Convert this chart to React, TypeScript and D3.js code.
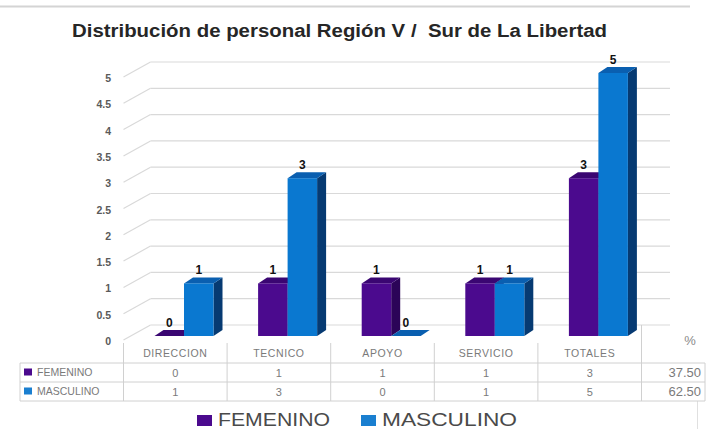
import React from "react";
import * as d3 from "d3";

const categories = ["DIRECCION", "TECNICO", "APOYO", "SERVICIO", "TOTALES"];
const femenino = [0, 1, 1, 1, 3];
const masculino = [1, 3, 0, 1, 5];
const seriesNames = ["FEMENINO", "MASCULINO"];
const percentages = ["37.50", "62.50"];
const title = "Distribución de personal Región V /  Sur de La Libertad";

const W = 707;
const H = 429;
const FONT = "'Liberation Sans', Arial, sans-serif";

const colors = {
  fem: { front: "#4b0a8e", top: "#3a0672", side: "#2b0458", legend: "#4b0a8e" },
  masc: { front: "#0a78d0", top: "#0a5fb0", side: "#063a72", legend: "#1a7fd0" },
};

export default function App() {
  const y = d3.scaleLinear().domain([0, 5]).range([336, 73]);
  const x = d3.scaleBand().domain(categories).range([123.5, 641.5]).padding(0);
  const ticks = y.ticks(10);
  const bw = 29.5;
  const dx = 9;
  const dy = -6;
  const off = 31;
  const backDx = 27;
  const backDy = -11;

  const bar3d = (xs: number, v: number, c: any, key: string) => {
    const yt = y(v);
    const yb = y(0);
    const top = `${xs},${yt} ${xs + dx},${yt + dy} ${xs + bw + dx},${yt + dy} ${xs + bw},${yt}`;
    const side = `${xs + bw},${yt} ${xs + bw + dx},${yt + dy} ${xs + bw + dx},${yb + dy} ${xs + bw},${yb}`;
    return (
      <g key={key}>
        <polygon points={side} fill={c.side} />
        <polygon points={top} fill={c.top} />
        {v > 0 && <rect x={xs} y={yt} width={bw} height={yb - yt} fill={c.front} />}
        <text
          x={xs + bw / 2}
          y={yt - 9}
          textAnchor="middle"
          fontFamily={FONT}
          fontWeight="bold"
          fontSize={12}
          fill="#111"
        >
          {v}
        </text>
      </g>
    );
  };

  const tableLeft = 20;
  const catLeft = 123.5;
  const pctRight = 705;
  const rowLines = [363, 382, 401];
  const rowCenters = [372.5, 391.5];
  const rows = [femenino, masculino];
  const rowColors = [colors.fem.legend, colors.masc.legend];

  return (
    <svg
      width={W}
      height={H}
      style={{ position: "absolute", left: 0, top: 0, background: "#fff" }}
    >
      <rect x={0} y={0} width={W} height={H} fill="#fff" />
      <line x1={0} x2={690} y1={6.5} y2={6.5} stroke="#d4d4d4" strokeWidth={2} />
      <line x1={697.5} x2={697.5} y1={401} y2={429} stroke="#e0e0e0" strokeWidth={1} />

      <text
        x={72}
        y={37}
        fontFamily={FONT}
        fontWeight="bold"
        fontSize={18}
        fill="#262626"
        textLength={535}
        lengthAdjust="spacingAndGlyphs"
        style={{ whiteSpace: "pre" }}
      >
        {title}
      </text>

      {ticks.map((t) => (
        <g key={`g${t}`}>
          <line
            x1={catLeft}
            y1={y(t) + 4}
            x2={catLeft + backDx}
            y2={y(t) + backDy}
            stroke="#d9d9d9"
            strokeWidth={1.2}
          />
          <line
            x1={catLeft + backDx}
            x2={670}
            y1={y(t) + backDy}
            y2={y(t) + backDy}
            stroke="#d9d9d9"
            strokeWidth={1.2}
          />
          <text
            x={111}
            y={y(t) + 9}
            textAnchor="end"
            fontFamily={FONT}
            fontWeight="bold"
            fontSize={10.5}
            fill="#5a5a5a"
          >
            {t}
          </text>
        </g>
      ))}

      {categories.map((c, i) => {
        const x0 = x(c)!;
        return (
          <g key={c}>
            {bar3d(x0 + off, femenino[i], colors.fem, "f" + c)}
            {bar3d(x0 + off + bw, masculino[i], colors.masc, "m" + c)}
          </g>
        );
      })}

      <g stroke="#d0d0d0" strokeWidth={1}>
        {rowLines.map((ly, i) => (
          <line key={`h${i}`} x1={tableLeft} x2={pctRight} y1={ly} y2={ly} />
        ))}
        <line x1={tableLeft} x2={tableLeft} y1={363} y2={401} />
        {categories.map((c) => (
          <line key={`v${c}`} x1={x(c)!} x2={x(c)!} y1={343} y2={401} />
        ))}
        <line x1={641.5} x2={641.5} y1={325} y2={401} />
        <line x1={pctRight} x2={pctRight} y1={363} y2={401} />
      </g>
      {categories.map((c) => (
        <text
          key={`hd${c}`}
          x={x(c)! + x.bandwidth() / 2}
          y={357}
          textAnchor="middle"
          fontFamily={FONT}
          fontSize={10.5}
          letterSpacing={0.6}
          fill="#7a7a7a"
        >
          {c}
        </text>
      ))}
      <text x={690} y={345} textAnchor="middle" fontFamily={FONT} fontSize={13} fill="#8a8a8a">
        %
      </text>
      {rows.map((r, ri) => (
        <g key={`row${ri}`}>
          <rect x={24} y={rowCenters[ri] - 4} width={8} height={7} fill={rowColors[ri]} />
          <text
            x={37}
            y={rowCenters[ri] + 3.5}
            fontFamily={FONT}
            fontSize={10.5}
            fill="#7a7a7a"
          >
            {seriesNames[ri]}
          </text>
          {r.map((v, ci) => (
            <text
              key={`c${ci}`}
              x={x(categories[ci])! + x.bandwidth() / 2}
              y={rowCenters[ri] + 4}
              textAnchor="middle"
              fontFamily={FONT}
              fontSize={11}
              fill="#7a7a7a"
            >
              {v}
            </text>
          ))}
          <text
            x={701}
            y={rowCenters[ri] + 4.5}
            textAnchor="end"
            fontFamily={FONT}
            fontSize={13}
            fill="#7a7a7a"
          >
            {percentages[ri]}
          </text>
        </g>
      ))}

      <rect x={197} y={415} width={15} height={11} fill={colors.fem.legend} />
      <text
        x={218}
        y={425.5}
        fontFamily={FONT}
        fontSize={18}
        fill="#4a4a4a"
        textLength={112}
        lengthAdjust="spacingAndGlyphs"
      >
        {seriesNames[0]}
      </text>
      <rect x={361} y={415} width={15} height={11} fill={colors.masc.legend} />
      <text
        x={382}
        y={425.5}
        fontFamily={FONT}
        fontSize={18}
        fill="#4a4a4a"
        textLength={135}
        lengthAdjust="spacingAndGlyphs"
      >
        {seriesNames[1]}
      </text>
    </svg>
  );
}
